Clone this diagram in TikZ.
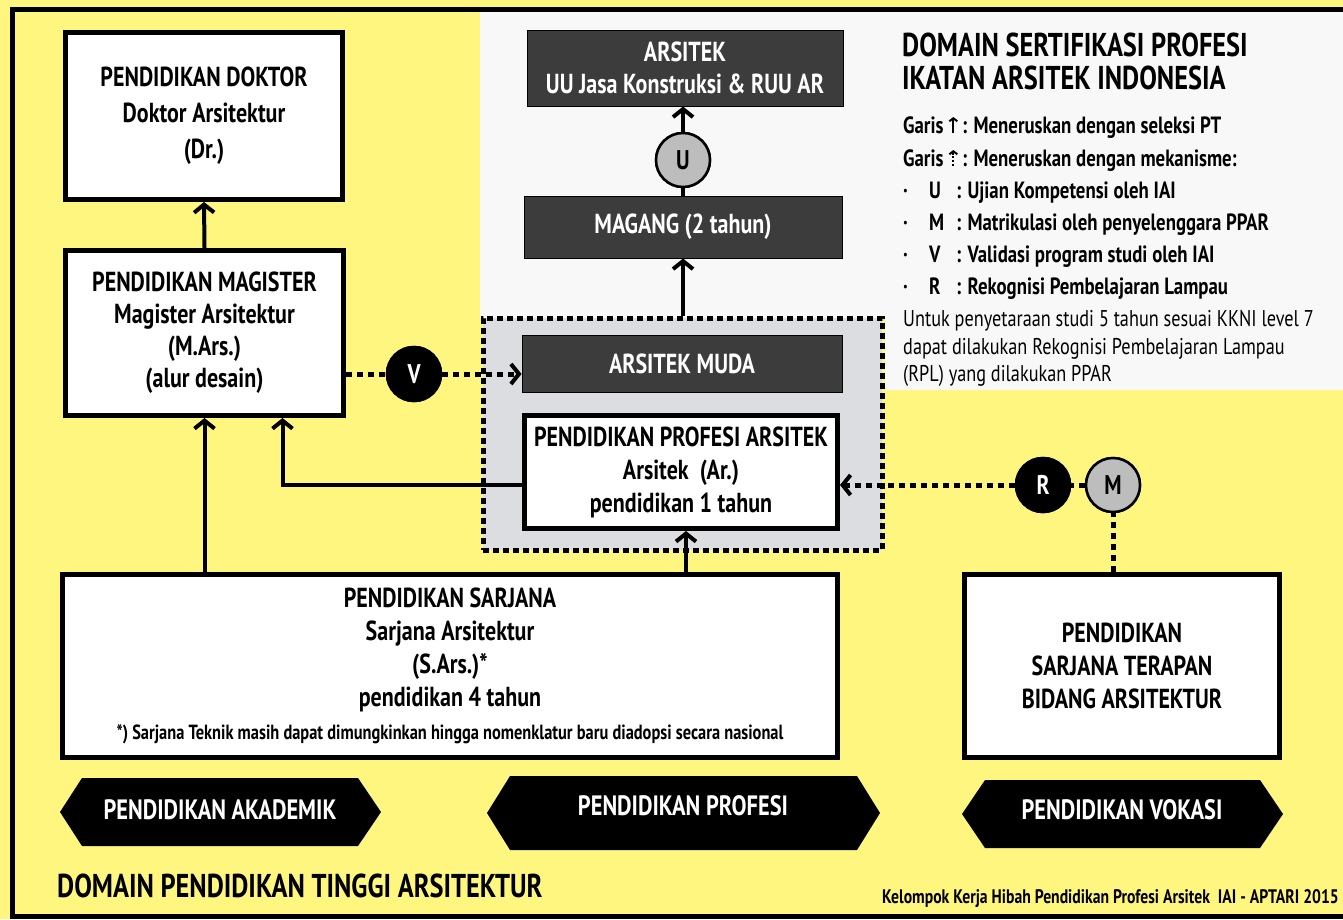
\documentclass[tikz,border=0pt]{standalone}
\usepackage{fontspec}
\setmainfont{PT Sans}[FakeStretch=0.8]
\usetikzlibrary{arrows.meta,calc}
\definecolor{bgyellow}{HTML}{FFF680}
\definecolor{paper}{HTML}{F8F8F8}
\definecolor{boxgray}{HTML}{DCDDE1}
\definecolor{darkbox}{HTML}{3C3C3C}
\definecolor{circgray}{HTML}{BDBDBD}
\newcommand{\solidup}{\tikz[baseline=0pt]\draw[line width=2pt,-{Straight Barb[length=3pt,width=8pt]}] (0pt,0pt)--(0pt,16pt);}
\newcommand{\dotup}{\tikz[baseline=0pt]\draw[line width=2pt,dash pattern=on 2pt off 1.8pt,-{Straight Barb[length=3pt,width=8pt]}] (0pt,0pt)--(0pt,16pt);}
\newcommand{\legitem}[2]{\makebox[26pt][l]{·}\makebox[27pt][l]{#1}: #2}
\begin{document}
\begin{tikzpicture}[x=1pt,y=-1pt,
  box/.style={draw, line width=5pt, fill=white, align=center, inner sep=0pt,
    font=\bfseries\fontsize{27.5}{33}\selectfont},
  darkb/.style={draw=black, line width=1pt, fill=darkbox, text=white, align=center, inner sep=0pt,
    font=\bfseries\fontsize{27.5}{32}\selectfont},
  circ/.style={circle, draw, line width=2.5pt, minimum size=54pt, inner sep=0pt,
    font=\bfseries\fontsize{27}{27}\selectfont},
  arr/.style={line width=4pt, -{Straight Barb[length=8pt,width=20pt]}},
  solid4/.style={line width=4pt},
  dotl/.style={line width=5pt, dash pattern=on 6pt off 5pt},
  dotarr/.style={dotl, -{Straight Barb[length=8pt,width=20pt,line width=4pt]}},
  leg/.style={inner sep=0pt, font=\bfseries\fontsize{23.5}{26}\selectfont},
  legp/.style={inner sep=0pt, font=\fontsize{22.8}{26}\selectfont},
  banner/.style={fill=black},
  bantext/.style={text=white, inner sep=0pt, font=\bfseries\fontsize{28}{30}\selectfont}
]
\useasboundingbox (0,0) rectangle (1343,919);
% backgrounds
\fill[bgyellow] (0,0) rectangle (1343,919);
\fill[paper] (480,12) -- (1343,12) -- (1343,390) -- (885,390) -- (885,318) -- (480,318) -- cycle;
\node[draw, fill=boxgray, line width=5pt, dash pattern=on 6pt off 4pt, minimum width=399pt, minimum height=232pt, inner sep=0pt] (dbox) at (682.5,434) {};
\draw[line width=5pt] (12,9) rectangle (1400,916);

% boxes
\node[box, minimum width=277pt, minimum height=167pt, font=\bfseries\fontsize{27.5}{36}\selectfont] (doktor) at (204,116)
  {PENDIDIKAN DOKTOR\\Doktor Arsitektur\\(Dr.)};
\node[box, minimum width=278pt, minimum height=165pt, font=\bfseries\fontsize{27.5}{32}\selectfont] (magister) at (204.5,333)
  {PENDIDIKAN MAGISTER\\Magister Arsitektur\\(M.Ars.)\\(alur desain)};
\node[box, minimum width=775pt, minimum height=183pt] (sarjana) at (450,666)
  {PENDIDIKAN SARJANA\\Sarjana Arsitektur\\(S.Ars.)*\\pendidikan 4 tahun\\{\fontsize{20.5}{22}\selectfont *) Sarjana Teknik masih dapat dimungkinkan hingga nomenklatur baru diadopsi secara nasional}};
\node[box, minimum width=313pt, minimum height=113pt] (profesi) at (681,472)
  {PENDIDIKAN PROFESI ARSITEK\\Arsitek~~(Ar.)\\pendidikan 1 tahun};
\node[box, minimum width=315pt, minimum height=183pt] (vokasi) at (1122,666)
  {PENDIDIKAN\\SARJANA TERAPAN\\BIDANG ARSITEKTUR};
\node[darkb, minimum width=320pt, minimum height=57pt] (muda) at (682,363.5) {ARSITEK MUDA};
\node[darkb, minimum width=318pt, minimum height=62pt] (magang) at (683,227) {MAGANG (2 tahun)};
\node[darkb, minimum width=316pt, minimum height=76pt] (arsitek) at (685,68) {ARSITEK\\UU Jasa Konstruksi \& RUU AR};

% circles
\node[circ, fill=circgray] (U) at (683,160) {U};
\node[circ, fill=black, text=white] (V) at (414,374) {V};
\node[circ, fill=black, text=white] (R) at (1043,485) {R};
\node[circ, fill=circgray] (M) at (1113,485) {M};

% connectors
\draw[arr] (magister.north) -- (doktor.south);
\draw[arr] (magister.south |- sarjana.north) -- (magister.south);
\coordinate (mgin) at ([xshift=78pt]magister.south);
\draw[arr] (profesi.west |- 0,485) -| (mgin);
\coordinate (prin) at ([xshift=5pt]profesi.south);
\draw[arr] (prin |- sarjana.north) -- (prin);
\draw[arr] (dbox.north -| magang.south) -- (magang.south);
\draw[solid4] (magang.north -| U) -- (U);
\draw[arr] (U) -- (arsitek.south -| U);
\draw[dotl] (magister.east |- V) -- (V);
\draw[dotarr] (V) -- (muda.west |- V);
\draw[dotarr] (R) -- (profesi.east |- R);
\draw[dotl] (M) -- (R);
\draw[dotl] (vokasi.north -| M) -- (M);
\node[circ, fill=black, text=white] at (R) {R};
\node[circ, fill=circgray] at (M) {M};
\node[circ, fill=black, text=white] at (V) {V};
\node[circ, fill=circgray] at (U) {U};

% banners
\fill[banner] (60,812) -- (82,778) -- (358,778) -- (381,812) -- (358,846) -- (82,846) -- cycle;
\node[bantext] (bakad) at (220,810) {PENDIDIKAN AKADEMIK};
\fill[banner] (487,813) -- (510,776) -- (857,776) -- (880,813) -- (857,850) -- (510,850) -- cycle;
\node[bantext] (bprof) at (683,806) {PENDIDIKAN PROFESI};
\fill[banner] (962,814) -- (985,780) -- (1260,780) -- (1283,814) -- (1260,848) -- (985,848) -- cycle;
\node[bantext] (bvok) at (1122,810) {PENDIDIKAN VOKASI};

% titles
\node[anchor=base west, inner sep=0pt, font=\bfseries\fontsize{33}{33}\selectfont] (dpt) at (57,897) {DOMAIN PENDIDIKAN TINGGI ARSITEKTUR};
\node[anchor=base west, inner sep=0pt, font=\bfseries\fontsize{19.6}{20}\selectfont] (credit) at (882,903) {Kelompok Kerja Hibah Pendidikan Profesi Arsitek~~IAI - APTARI 2015};
\node[anchor=base west, inner sep=0pt, font=\bfseries\fontsize{33}{33}\selectfont] (dsp1) at (902,56) {DOMAIN SERTIFIKASI PROFESI};
\node[anchor=base west, inner sep=0pt, font=\bfseries\fontsize{33}{33}\selectfont] (dsp2) at (902,89) {IKATAN ARSITEK INDONESIA};

% legend
\node[leg, anchor=base west] (l1) at (903,133) {Garis \solidup\,: Meneruskan dengan seleksi PT};
\node[leg, anchor=base west] (l2) at (903,166) {Garis \dotup\,: Meneruskan dengan mekanisme:};
\node[leg, anchor=base west] (l3) at (903,198) {\legitem{U}{Ujian Kompetensi oleh IAI}};
\node[leg, anchor=base west] (l4) at (903,230) {\legitem{M}{Matrikulasi oleh penyelenggara PPAR}};
\node[leg, anchor=base west] (l5) at (903,262) {\legitem{V}{Validasi program studi oleh IAI}};
\node[leg, anchor=base west] (l6) at (903,294) {\legitem{R}{Rekognisi Pembelajaran Lampau}};
\node[legp, anchor=base west] (p1) at (903,326) {Untuk penyetaraan studi 5 tahun sesuai KKNI level 7};
\node[legp, anchor=base west] (p2) at (903,354) {dapat dilakukan Rekognisi Pembelajaran Lampau};
\node[legp, anchor=base west] (p3) at (903,381) {(RPL) yang dilakukan PPAR};
\end{tikzpicture}
\end{document}
